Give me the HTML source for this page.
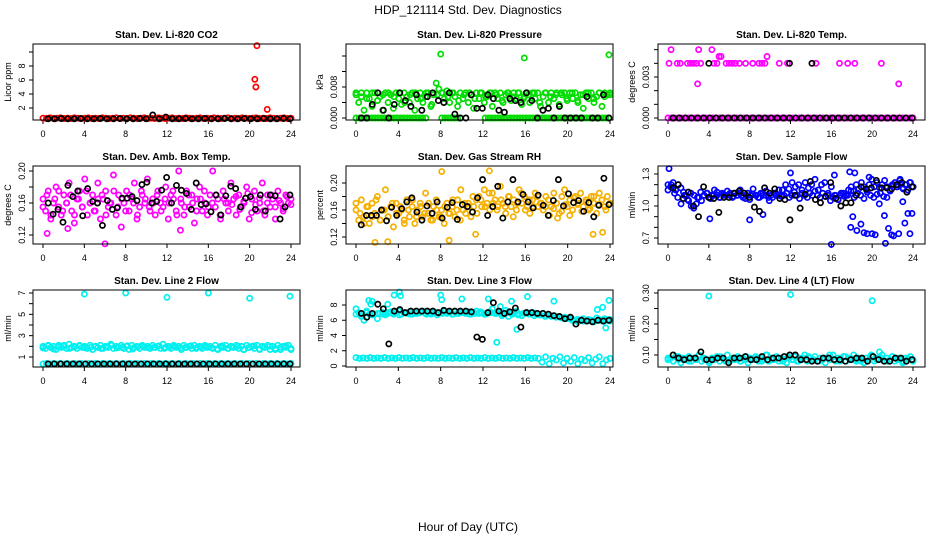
<!DOCTYPE html>
<html><head><meta charset="utf-8">
<style>
body{margin:0;background:#fff;}
svg{display:block;font-family:"Liberation Sans",sans-serif;}
</style></head>
<body>
<svg id="chart" width="936" height="540" viewBox="0 0 936 540">
<rect width="936" height="540" fill="#fff"/>
<text x="468" y="14" font-size="12" text-anchor="middle">HDP_121114  Std. Dev. Diagnostics</text>
<text x="468" y="531" font-size="12" text-anchor="middle">Hour of Day (UTC)</text>
</svg>
<script>
// ---- data ----
const xTickLabels = [0,4,8,12,16,20,24];

const co2Col = [0.55,0.5,0.6,0.5,0.55,0.6,0.5,0.55,0.5,0.6,0.55,0.5,0.55,0.6,0.5,0.55,0.5,0.6,0.55,0.5,0.55,0.6,0.5,0.55,0.5,0.6,0.55,0.5,0.55,0.6,0.5,0.55,0.5,0.6,0.55,0.5,0.55,0.6,0.5,0.55,0.5,0.6,0.55,0.5,0.55,0.6,0.5,0.55,0.5,0.6,0.55,0.5,0.55,0.6,0.5,0.55,0.5,0.6,0.55,0.5,0.55,0.6,0.5,0.55,0.5,0.6,0.55,0.5,0.55,0.6,0.5,0.55];
const co2Blk = [0.45,0.45,0.5,0.45,0.45,0.5,0.45,0.45,0.5,0.45,0.45,0.5,0.45,0.45,0.5,0.45,1.0,0.45,0.7,0.45,0.45,0.5,0.45,0.45,0.5,0.45,0.45,0.5,0.45,0.45,0.5,0.45,0.45,0.5,0.45,0.45,0.5,0.45];
const co2OutH = [20.5,20.6,20.7,21.7];
const co2OutV = [6.1,5.0,10.9,1.8];
const co2Ticks = [2,4,6,8,10];
const co2Labels = ["2","4","6","8",""];

const presCol = [0.0065,0.004,0.0055,0.002,0.0065,0.005,0.003,0.0065,0.0045,0.0055,0.002,0.0065,0.004,0.006,0.0025,0.0065,0.005,0.0035,0.0065,0.0055,0.004,0.0065,0.002,0.005,0.0065,0.004,0.0055,0.0065,0.003,0.006,0.009,0.0075,0.0065,0.005,0.007,0.004,0.0065,0.0055,0.003,0.0065,0.005,0.0065,0.004,0.006,0.0025,0.0065,0.005,0.0065,0.004,0.0055,0.0065,0.003,0.0065,0.005,0.0065,0.004,0.006,0.0065,0.0045,0.0065,0.005,0.0065,0.0035,0.0055,0.0065,0.004,0.0065,0.005,0.0065,0.003,0.0055,0.0065,0.004,0.0065,0.005,0.0065,0.0035,0.006,0.0065,0.0045,0.0065,0.005,0.0065,0.004,0.006,0.0025,0.0065,0.005,0.0065,0.004,0.0055,0.0065,0.003,0.0065,0.006,0.0065];
const presCol2 = [0.006,0.0065,0.005,0.0065,0.0045,0.006,0.0065,0.0055,0.0065,0.004,0.006,0.0065,0.005,0.0065,0.0035,0.006,0.0065,0.0055,0.0065,0.0045,0.006,0.0065,0.005,0.0065,0.0055,0.0065,0.006,0.0045,0.0065,0.0055,0.0065,0.005,0.006,0.0065,0.004,0.0065,0.0055,0.006,0.0065,0.005,0.0065,0.0045,0.006,0.0065,0.005,0.0065,0.0055,0.006];
const presZeroH = [0,0.3,0.6,0.9,1.2,1.5,1.8,2.1,2.4,2.7,3,3.3,3.6,3.9,4.2,4.5,4.8,5.1,5.4,5.7,6,6.3,6.6,8.1,8.4,8.7,9,9.3,9.6,12.2,12.5,12.8,13.1,13.4,13.7,14,14.3,14.6,14.9,15.2,15.5,15.8,16.1,16.4,16.7,17,17.3,17.6,17.9,18.2,18.5,18.8,19.1,19.4,19.7,20,20.3,20.6,20.9,21.2,21.5,21.8,22.1,22.4,22.7,23,23.3,23.6,23.9];
const presBlk = [0,0,0.0035,0.0065,0.002,0,0.0035,0.0065,0.0045,0.003,0.006,0.002,0.0055,0.0065,0.0045,0.004,0.0065,0.001,0,0,0.006,0.0025,0.0025,0.006,0.005,0.002,0.0015,0.005,0.0045,0.004,0.0065,0.0045,0,0.002,0.0025,0,0.003,0,0,0,0,0.0055,0,0,0.006,0];
const presOutH = [8.0,15.9,23.9];
const presOutV = [0.0165,0.0155,0.0163];
const presTicks = [0,0.004,0.008,0.012,0.016];
const presLabels = ["0.000","","0.008","",""];

const tempZeroCol = [0,0,0,0,0,0,0,0,0,0,0,0,0,0,0,0,0,0,0,0,0,0,0,0,0,0,0,0,0,0,0,0,0,0,0,0,0,0,0,0,0,0,0,0,0,0,0,0,0,0,0,0,0,0,0,0,0,0,0,0,0,0,0,0,0,0,0,0,0,0,0,0];
const tempHiH = [0.1,0.3,0.9,1.2,1.9,2.2,2.5,2.8,2.9,3.0,3.2,4.3,4.5,4.8,5.0,5.2,5.7,6.0,6.3,6.6,7.0,7.6,8.3,8.9,9.2,9.5,9.7,10.9,11.7,14.5,16.8,17.6,18.3,20.9,22.6];
const tempHiV = [0.004,0.005,0.004,0.004,0.004,0.004,0.004,0.004,0.0025,0.005,0.004,0.005,0.004,0.004,0.0045,0.0045,0.004,0.004,0.004,0.004,0.004,0.004,0.004,0.004,0.004,0.004,0.0045,0.004,0.004,0.004,0.004,0.004,0.004,0.004,0.0025];
const tempBlkH = [4.0,11.9,14.1];
const tempBlkV = [0.004,0.004,0.004];
const tempTicks = [0,0.001,0.002,0.003,0.004,0.005];
const tempLabels = ["0.000","","","0.003","",""];

const ambCol = [0.165,0.15,0.175,0.14,0.16,0.18,0.155,0.145,0.17,0.16,0.185,0.15,0.135,0.165,0.175,0.155,0.19,0.145,0.16,0.17,0.15,0.185,0.14,0.165,0.175,0.155,0.16,0.195,0.145,0.17,0.13,0.16,0.175,0.15,0.165,0.185,0.14,0.155,0.17,0.16,0.19,0.15,0.165,0.145,0.175,0.16,0.155,0.18,0.14,0.17,0.165,0.15,0.2,0.16,0.145,0.175,0.155,0.17,0.135,0.165,0.18,0.15,0.16,0.145,0.17,0.2,0.155,0.165,0.14,0.175,0.16,0.15,0.185,0.165,0.145,0.17,0.155,0.16,0.18,0.14,0.165,0.175,0.15,0.16,0.185,0.145,0.17,0.155,0.165,0.14,0.175,0.16,0.15,0.17,0.16,0.165];
const ambCol2 = [0.155,0.17,0.145,0.165,0.175,0.15,0.16,0.17,0.145,0.165,0.155,0.175,0.16,0.15,0.165,0.17,0.145,0.16,0.175,0.155,0.165,0.15,0.17,0.16,0.145,0.175,0.165,0.155,0.16,0.17,0.15,0.165,0.16,0.175,0.145,0.165,0.155,0.17,0.16,0.15,0.165,0.175,0.155,0.16,0.17,0.145,0.165,0.16,0.158,0.168,0.152,0.162,0.172,0.148,0.158,0.166,0.15,0.16,0.17,0.155,0.163,0.153,0.168,0.158];
const ambOutH = [0.4,2.4,6.0,13.3];
const ambOutV = [0.122,0.128,0.109,0.126];
const ambBlk = [0.16,0.146,0.152,0.136,0.182,0.168,0.175,0.144,0.178,0.162,0.16,0.132,0.163,0.152,0.154,0.166,0.166,0.168,0.163,0.183,0.186,0.16,0.162,0.176,0.192,0.16,0.182,0.176,0.172,0.152,0.185,0.158,0.159,0.149,0.17,0.145,0.169,0.181,0.178,0.155,0.166,0.168,0.152,0.17,0.15,0.17,0.169,0.14,0.155,0.17];
const ambTicks = [0.12,0.14,0.16,0.18,0.20];
const ambLabels = ["0.12","","0.16","","0.20"];

const rhCol = [0.16,0.145,0.175,0.15,0.165,0.14,0.17,0.155,0.18,0.145,0.16,0.19,0.15,0.165,0.135,0.17,0.155,0.16,0.145,0.175,0.15,0.165,0.14,0.16,0.17,0.15,0.185,0.155,0.145,0.165,0.175,0.15,0.16,0.14,0.17,0.155,0.165,0.15,0.175,0.145,0.16,0.155,0.17,0.15,0.165,0.175,0.18,0.165,0.19,0.17,0.16,0.185,0.175,0.165,0.195,0.17,0.155,0.18,0.165,0.175,0.16,0.19,0.17,0.18,0.165,0.155,0.175,0.185,0.165,0.17,0.16,0.18,0.175,0.165,0.185,0.17,0.155,0.18,0.19,0.165,0.175,0.16,0.18,0.17,0.185,0.165,0.175,0.16,0.18,0.17,0.155,0.185,0.175,0.165,0.18,0.17];
const rhCol2 = [0.17,0.155,0.14,0.165,0.15,0.175,0.145,0.16,0.15,0.17,0.155,0.165,0.14,0.16,0.175,0.15,0.165,0.155,0.17,0.145,0.16,0.15,0.165,0.155,0.175,0.16,0.19,0.17,0.165,0.18,0.155,0.175,0.165,0.185,0.17,0.16,0.175,0.165,0.18,0.15,0.17,0.185,0.16,0.175,0.165,0.18,0.17,0.165,0.152,0.162,0.148,0.158,0.168,0.152,0.178,0.168,0.158,0.172,0.162,0.18,0.168,0.175,0.16,0.17];
const rhOutH = [1.8,3.0,8.1,8.8,12.6,11.3,22.4,23.3];
const rhOutV = [0.112,0.113,0.217,0.115,0.218,0.124,0.124,0.127];
const rhBlk = [0.138,0.152,0.152,0.152,0.16,0.144,0.164,0.152,0.162,0.172,0.178,0.157,0.145,0.166,0.155,0.172,0.148,0.164,0.171,0.146,0.168,0.165,0.157,0.178,0.205,0.152,0.165,0.195,0.148,0.172,0.205,0.172,0.183,0.172,0.163,0.182,0.167,0.152,0.174,0.205,0.166,0.184,0.171,0.174,0.158,0.171,0.15,0.167,0.207,0.168];
const rhTicks = [0.12,0.14,0.16,0.18,0.20];
const rhLabels = ["0.12","","0.16","","0.20"];

const flowCol = [1.2,1.18,1.22,1.15,1.2,1.17,1.13,1.1,1.05,1.0,0.98,1.02,1.08,1.05,1.1,1.12,1.08,1.1,1.15,1.1,1.08,1.12,1.1,1.14,1.1,1.08,1.12,1.1,1.15,1.1,1.07,1.12,1.1,1.16,1.1,1.08,1.12,1.1,1.14,1.08,1.1,1.12,1.1,1.15,1.09,1.1,1.12,1.08,1.1,1.13,1.1,1.07,1.12,1.1,1.08,1.12,1.1,1.14,1.1,1.08,1.12,1.09,1.1,1.05,1.08,1.1,1.06,1.1,1.12,1.1,1.15,1.18,1.14,1.2,1.16,1.22,1.18,1.15,1.2,1.25,1.18,1.22,1.17,1.2,1.24,1.18,1.15,1.2,1.22,1.18,1.25,1.17,1.2,1.15,1.22,1.18];
const flowCol2 = [1.15,1.2,1.12,1.08,1.02,1.1,1.06,1.12,1.1,1.08,1.13,1.1,1.12,1.07,1.1,1.13,1.08,1.11,1.1,1.12,1.09,1.1,1.12,1.08,1.1,1.06,1.11,1.1,1.08,1.12,1.1,1.05,1.08,1.12,1.1,1.15,1.2,1.16,1.22,1.18,1.2,1.15,1.22,1.17,1.2,1.25,1.15,1.2,1.22,1.12,1.18,1.1,1.06,1.12,1.09,1.1,1.14,1.08,1.12,1.1,1.07,1.13,1.1,1.08,1.11,1.12,1.09,1.08,1.14,1.2,1.18,1.24,1.16,1.2,1.22,1.18];
const flowOutH = [0.1,4.1,8.0,9.3,12.0,16.0,16.3,17.9,18.1,18.5,18.9,19.2,19.5,20.0,20.3,20.7,21.2,21.3,21.6,21.9,22.1,22.6,23.0,23.2,23.5,23.7,23.9,17.8,18.3,19.7];
const flowOutV = [1.35,0.88,0.87,0.92,1.31,0.64,1.29,0.8,0.9,0.77,0.83,0.75,0.74,0.74,0.73,1.02,0.91,0.65,0.79,0.73,0.72,0.74,1.04,0.84,0.93,0.74,0.93,1.32,1.31,1.27];
const flowBlk = [1.17,1.2,1.07,1.13,1.0,0.9,1.18,1.08,1.07,0.94,1.08,1.08,1.12,1.14,1.12,1.08,0.99,0.95,1.17,1.12,1.16,1.07,1.06,0.87,1.1,0.98,1.11,1.23,1.06,1.03,1.09,1.22,1.07,1.0,1.03,1.03,1.1,1.18,1.16,1.17,1.24,1.17,1.17,1.16,1.2,1.22,1.13,1.18];
const flowTicks = [0.7,0.8,0.9,1.0,1.1,1.2,1.3];
const flowLabels = ["0.7","","","1.0","","","1.3"];

const l2Col = [2.0,1.8,2.1,1.9,2.0,1.7,2.1,1.9,2.0,1.8,2.2,1.9,2.0,1.8,2.1,1.9,2.0,1.8,2.1,1.7,2.0,1.9,2.1,1.8,2.0,1.9,2.2,1.8,2.0,1.9,2.1,1.8,2.0,1.7,2.1,1.9,2.0,1.8,2.1,1.9,2.0,1.8,2.1,1.9,2.0,1.8,2.2,1.9,2.0,1.8,2.1,1.9,2.0,1.7,2.1,1.9,2.0,1.8,2.1,1.9,2.0,1.8,2.1,1.9,2.0,1.8,2.1,1.7,2.0,1.9,2.1,1.8,2.0,1.9,2.1,1.8,2.0,1.7,2.1,1.9,2.0,1.8,2.1,1.7,2.0,1.9,2.1,1.7,2.0,1.8,2.1,1.7,2.0,1.9,2.1,1.8];
const l2Col2 = [1.85,2.05,1.75,1.95,2.1,1.8,1.95,2.05,1.85,1.9,2.0,1.8,1.95,2.1,1.85,1.9,2.05,1.75,1.95,2.0,1.85,1.9,2.05,1.8,1.95,2.0,1.85,1.9,2.05,1.8,1.95,2.0,1.85,1.75,2.05,1.8,1.95,2.0,1.7,1.9,2.05,1.75,1.95,2.0,1.7,1.9,2.05,1.7];
const l2Low = [0.35,0.4,0.35,0.4,0.35,0.4,0.35,0.4,0.35,0.4,0.35,0.4,0.35,0.4,0.35,0.4,0.35,0.4,0.35,0.4,0.35,0.4,0.35,0.4,0.35,0.4,0.35,0.4,0.35,0.4,0.35,0.4,0.35,0.4,0.35,0.4,0.35,0.4,0.35,0.4,0.35,0.4,0.35,0.4,0.35,0.4,0.35,0.4,0.35,0.4,0.35,0.4,0.35,0.4,0.35,0.4,0.35,0.4,0.35,0.4,0.35,0.4,0.35,0.4,0.35,0.4,0.35,0.4,0.35,0.4,0.35,0.4];
const l2OutH = [4.0,8.0,12.0,16.0,20.0,23.9];
const l2OutV = [6.9,7.0,6.6,7.0,6.5,6.7];
const l2Blk = [0.35,0.35,0.35,0.35,0.35,0.35,0.35,0.35,0.35,0.35,0.35,0.35,0.35,0.35,0.35,0.35,0.35,0.35,0.35,0.35,0.35,0.35,0.35,0.35,0.35,0.35,0.35,0.35,0.35,0.35,0.35,0.35,0.35,0.35,0.35,0.35,0.35,0.35,0.35,0.35];
const l2Ticks = [1,2,3,4,5,6,7];
const l2Labels = ["1","","3","","5","","7"];

const l3Hi = [7.5,7.0,6.5,6.0,7.2,6.8,8.5,6.8,6.2,6.9,7.0,6.7,6.9,7.1,6.8,7.0,7.2,6.8,7.0,6.9,7.1,6.8,7.0,6.9,7.0,7.2,6.9,7.0,6.8,7.1,7.0,6.9,7.0,7.2,6.9,7.0,6.8,7.1,6.9,7.0,7.0,6.9,7.1,6.8,7.0,7.2,6.9,7.0,6.8,6.9,7.1,7.5,6.9,7.0,7.8,6.8,7.3,6.5,6.9,7.0,7.2,6.8,6.6,6.9,7.0,6.8,7.0,6.9,6.8,6.7,6.9,6.6,6.7,6.5,6.6,6.4,6.5,6.3,6.4,6.3,6.2,6.1,6.0,5.8,6.0,6.2,5.9,6.1,6.0,5.8,6.3,6.0,5.9,6.2,6.0,6.1];
const l3Hi2 = [6.8,6.6,7.0,6.7,6.9,6.8,7.0,6.9,6.7,7.0,6.8,6.9,7.1,6.8,7.0,6.7,6.9,7.0,6.8,6.9,7.0,6.8,6.9,7.1,6.8,7.0,6.9,6.6,7.0,6.8,6.7,6.9,6.8,6.6,6.7,6.5,6.6,6.4,6.3,6.2,6.0,6.1,5.9,6.0,5.8,6.1,6.0,5.9];
const l3Low = [1.1,1.0,1.05,1.0,1.1,1.0,1.05,1.0,1.1,1.0,1.05,1.0,1.1,1.0,1.05,1.0,1.1,1.0,1.05,1.0,1.1,1.0,1.05,1.0,1.1,1.0,1.05,1.0,1.1,1.0,1.05,1.0,1.1,1.0,1.05,1.0,1.1,1.0,1.05,1.0,1.1,1.0,1.05,1.0,1.1,1.0,1.05,1.0,1.1,1.0,1.05,1.0,0.5,1.2,0.3,1.0,0.8,1.2,0.4,1.0,0.6,1.1,0.3,0.9,0.7,1.1,0.4,0.9,1.2,0.3,0.8,1.0];
const l3OutH = [1.2,1.4,3.0,3.6,4.1,4.2,8.0,8.1,10.0,12.5,13.3,14.7,15.2,16.2,18.7,23.9,22.8,23.3,23.6];
const l3OutV = [8.6,8.1,8.1,9.3,9.7,9.2,9.3,8.7,8.8,8.8,3.1,8.5,4.8,9.1,8.5,8.6,7.4,7.7,5.0];
const l3Blk = [6.9,6.4,6.9,8.1,7.5,2.9,7.2,7.4,7.0,7.2,7.2,7.2,7.2,7.2,7.0,7.3,7.2,7.2,7.2,7.2,7.1,3.8,3.5,7.0,8.3,7.2,6.9,7.1,7.6,5.1,7.0,7.0,6.9,6.9,6.8,6.6,6.5,6.2,6.4,5.5,6.0,5.9,5.8,6.0,5.9,6.0];
const l3Ticks = [0,2,4,6,8];
const l3Labels = ["0","2","4","6","8"];

const l4Col = [0.085,0.09,0.08,0.095,0.085,0.075,0.09,0.085,0.095,0.08,0.09,0.085,0.1,0.08,0.09,0.085,0.075,0.09,0.085,0.095,0.08,0.09,0.085,0.1,0.08,0.09,0.085,0.095,0.08,0.09,0.085,0.075,0.09,0.085,0.095,0.08,0.09,0.085,0.1,0.08,0.09,0.085,0.095,0.08,0.09,0.085,0.075,0.09,0.085,0.095,0.08,0.09,0.085,0.1,0.08,0.09,0.085,0.095,0.08,0.09,0.085,0.075,0.09,0.085,0.1,0.08,0.09,0.085,0.095,0.08,0.09,0.085,0.1,0.08,0.09,0.085,0.075,0.09,0.085,0.095,0.08,0.09,0.11,0.1,0.08,0.09,0.085,0.095,0.08,0.09,0.085,0.075,0.09,0.085,0.095,0.08];
const l4Col2 = [0.09,0.08,0.095,0.085,0.08,0.09,0.1,0.085,0.08,0.09,0.095,0.08,0.085,0.09,0.08,0.095,0.085,0.09,0.08,0.1,0.085,0.09,0.08,0.095,0.085,0.08,0.09,0.095,0.085,0.08,0.09,0.1,0.085,0.08,0.095,0.09,0.085,0.08,0.09,0.1,0.085,0.09,0.08,0.095,0.085,0.08,0.09,0.085];
const l4OutH = [4.0,12.0,20.0];
const l4OutV = [0.29,0.295,0.275];
const l4Blk = [0.1,0.09,0.085,0.09,0.09,0.11,0.085,0.085,0.09,0.09,0.075,0.09,0.09,0.095,0.085,0.085,0.095,0.085,0.09,0.09,0.095,0.1,0.1,0.085,0.085,0.08,0.08,0.09,0.09,0.085,0.085,0.08,0.085,0.09,0.09,0.08,0.095,0.085,0.08,0.08,0.09,0.09,0.08,0.085];
const l4Ticks = [0.10,0.15,0.20,0.25,0.30];
const l4Labels = ["0.10","","0.20","","0.30"];

// ---- layout ----
const NS = "http://www.w3.org/2000/svg";
const svg = document.getElementById("chart");
const cols = [{L:33,R:300,a:43,b:291,lx:22,tx:8},{L:346,R:613,a:356,b:610,lx:334,tx:320},{L:658,R:925,a:668,b:913,lx:646,tx:632}];
const rows = [{T:44,B:120},{T:166,B:244},{T:290,B:367}];

function mk(tag, attrs, parent){ const e=document.createElementNS(NS,tag); for(const k in attrs) e.setAttribute(k,attrs[k]); (parent||svg).appendChild(e); return e; }

function panel(ci, ri, key, title, ylab, v1, y1, v2, y2, ticks, labels){
  const c=cols[ci], r=rows[ri];
  const g=mk("g",{});
  
  
  const xs=h=>c.a+(c.b-c.a)*h/24;
  const ys=v=>y1+(v-v1)*(y2-y1)/(v2-v1);
  const t=mk("text",{x:(c.L+c.R)/2,y:r.T-6,"font-size":"10","font-weight":"bold","text-anchor":"middle"},g);
  t.textContent=title;
  
  
  const yt=mk("text",{transform:`translate(${c.tx+3},${(r.T+r.B)/2}) rotate(-90)`,"font-size":"9","text-anchor":"middle"},g);
  yt.textContent=ylab;
  
  
  ticks.forEach((v,i)=>{
    const y=ys(v);
    mk("line",{x1:c.L-4,x2:c.L,y1:y,y2:y,stroke:"#000","stroke-width":"1"},g);
    if(labels[i]){
      const l=mk("text",{transform:`translate(${c.lx+3},${y}) rotate(-90)`,"font-size":"9","text-anchor":"middle"},g);
      l.textContent=labels[i];
      
      
    }
  });
  xTickLabels.forEach(h=>{
    const x=xs(h);
    mk("line",{x1:x,x2:x,y1:r.B,y2:r.B+4,stroke:"#000","stroke-width":"1"},g);
    const l=mk("text",{x:x,y:r.B+17,"font-size":"9","text-anchor":"middle"},g);
    l.textContent=h;
    
    
  });
  const plot=mk("g",{},g);
  const box=mk("rect",{x:c.L,y:r.T,width:c.R-c.L,height:r.B-r.T,fill:"none",stroke:"#000","stroke-width":"1"},g);
  
  
  return {xs,ys,plot};
}

function pts(p, hours, vals, color, name){
  vals.forEach((v,i)=>{
    const h = hours ? hours[i] : i*24/(vals.length-1);
    const cc=mk("circle",{cx:p.xs(h),cy:p.ys(v),r:2.6,fill:"none",stroke:color,"stroke-width":"1.7"},p.plot);
    
    
  });
}
function blk(p, vals, name){
  const hrs = vals.map((v,i)=>0.5+i*23.4/(vals.length-1));
  pts(p, hrs, vals, "#000", name);
}

const RED="#ff0000", GRN="#00dd00", MAG="#ff00ff", ORG="#f5b000", BLU="#0000ff", CYN="#00f0f0";

let p;
p=panel(0,0,"co2","Stan. Dev. Li-820 CO2","Licor ppm",2,108,8,66,co2Ticks,co2Labels);
pts(p,null,co2Col,RED,"co2-point"); pts(p,co2OutH,co2OutV,RED,"co2-outlier"); blk(p,co2Blk,"co2-avg-point");

p=panel(1,0,"pressure","Stan. Dev. Li-820 Pressure","kPa",0,118,0.008,87,presTicks,presLabels);
pts(p,null,presCol,GRN,"pressure-point"); pts(p,null,presCol2,GRN,"pressure-point");
pts(p,presZeroH,presZeroH.map(()=>0),GRN,"pressure-zero-point");
pts(p,presOutH,presOutV,GRN,"pressure-outlier"); blk(p,presBlk,"pressure-avg-point");

p=panel(2,0,"temp","Stan. Dev. Li-820 Temp.","degrees C",0,118,0.003,77,tempTicks,tempLabels);
pts(p,null,tempZeroCol,MAG,"temp-point"); pts(p,tempHiH,tempHiV,MAG,"temp-high-point");
blk(p,tempZeroCol.slice(0,40),"temp-avg-point"); pts(p,tempBlkH,tempBlkV,"#000","temp-avg-high-point");

p=panel(0,1,"amb-box","Stan. Dev. Amb. Box Temp.","degrees C",0.12,235,0.20,171,ambTicks,ambLabels);
pts(p,null,ambCol,MAG,"amb-point"); pts(p,null,ambCol2,MAG,"amb-point"); pts(p,ambOutH,ambOutV,MAG,"amb-outlier"); blk(p,ambBlk,"amb-avg-point");

p=panel(1,1,"rh","Stan. Dev. Gas Stream RH","percent",0.12,237,0.20,183,rhTicks,rhLabels);
pts(p,null,rhCol,ORG,"rh-point"); pts(p,null,rhCol2,ORG,"rh-point"); pts(p,rhOutH,rhOutV,ORG,"rh-outlier"); blk(p,rhBlk,"rh-avg-point");

p=panel(2,1,"sample-flow","Stan. Dev. Sample Flow","ml/min",0.7,238,1.3,174,flowTicks,flowLabels);
pts(p,null,flowCol,BLU,"flow-point"); pts(p,null,flowCol2,BLU,"flow-point"); pts(p,flowOutH,flowOutV,BLU,"flow-outlier"); blk(p,flowBlk,"flow-avg-point");

p=panel(0,2,"line2","Stan. Dev. Line 2 Flow","ml/min",1,357,7,293,l2Ticks,l2Labels);
pts(p,null,l2Col,CYN,"line2-point"); pts(p,null,l2Col2,CYN,"line2-point"); pts(p,null,l2Low,CYN,"line2-low-point"); pts(p,l2OutH,l2OutV,CYN,"line2-outlier"); blk(p,l2Blk,"line2-avg-point");

p=panel(1,2,"line3","Stan. Dev. Line 3 Flow","ml/min",0,366,8,305,l3Ticks,l3Labels);
pts(p,null,l3Hi,CYN,"line3-point"); pts(p,null,l3Hi2,CYN,"line3-point"); pts(p,null,l3Low,CYN,"line3-low-point"); pts(p,l3OutH,l3OutV,CYN,"line3-outlier"); blk(p,l3Blk,"line3-avg-point");

p=panel(2,2,"line4","Stan. Dev. Line 4 (LT) Flow","ml/min",0.10,355,0.30,293,l4Ticks,l4Labels);
pts(p,null,l4Col,CYN,"line4-point"); pts(p,null,l4Col2,CYN,"line4-point"); pts(p,l4OutH,l4OutV,CYN,"line4-outlier"); blk(p,l4Blk,"line4-avg-point");
</script>
</body></html>
